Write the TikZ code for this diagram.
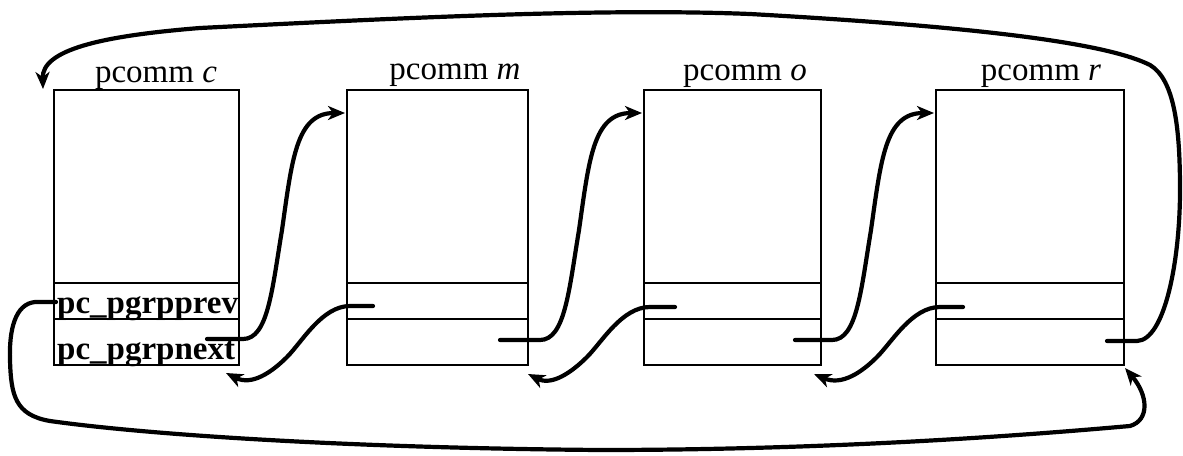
\documentclass[tikz,border=0pt]{standalone}
\usepackage{fontspec}
\setmainfont{Liberation Serif}
\usetikzlibrary{arrows.meta,calc}
\begin{document}
\begin{tikzpicture}[x=1pt,y=-1pt,
  box/.style={draw,line width=2.2pt,rectangle,anchor=north west,inner sep=0pt,minimum height=275pt},
  divider/.style={line width=2.2pt},
  title/.style={anchor=base,inner sep=0pt,font=\fontsize{33}{36}\selectfont},
  field/.style={anchor=base west,inner sep=0pt,font=\fontsize{33}{36}\selectfont\bfseries},
  link/.style={line width=4.2pt,line cap=round,line join=round,-{Stealth[length=17pt,width=14pt,inset=5pt]}}]
\useasboundingbox (0,0) rectangle (1183,455);
% boxes
\node[box,minimum width=185pt] (c) at (53,89) {};
\node[box,minimum width=181pt] (m) at (346,89) {};
\node[box,minimum width=177pt] (o) at (643,89) {};
\node[box,minimum width=188pt] (r) at (935,89) {};
\foreach \b in {c,m,o,r}{
  \draw[divider] ($(\b.north west)+(0,194)$) -- ($(\b.north east)+(0,194)$);
  \draw[divider] ($(\b.north west)+(0,230)$) -- ($(\b.north east)+(0,230)$);
}
% titles
\node[title] (tc) at (156,82) {pcomm \textit{c}};
\node[title] (tm) at (455,79) {pcomm \textit{m}};
\node[title] (to) at (745,80) {pcomm \textit{o}};
\node[title] (tr) at (1041,80) {pcomm \textit{r}};
% fields
\node[field] (fprev) at (57,313) {pc\_pgrpprev};
\node[field] (fnext) at (57,359) {pc\_pgrpnext};
% anchor points
\coordinate (cn) at (207,339);
\coordinate (cp) at (56,302);
\coordinate (ct) at (226,373);
\coordinate (ctop) at (43,89);
\coordinate (mi) at (345,113);
\coordinate (mn) at (500,340);
\coordinate (mp) at (373,306);
\coordinate (mt) at (528,374);
\coordinate (oi) at (642,113);
\coordinate (on) at (795,340);
\coordinate (op) at (675,307);
\coordinate (ot) at (814,374);
\coordinate (ri) at (934,113);
\coordinate (rn) at (1107,341);
\coordinate (rp) at (963,307);
\coordinate (rt) at (1125,368);
% next links
\draw[link] (cn) -- (243,339) .. controls (268,339) and (272,290) .. (282,230) .. controls (292,160) and (296,113) .. (mi);
\draw[link] (mn) -- (540,340) .. controls (565,340) and (569,290) .. (579,230) .. controls (589,160) and (593,113) .. (oi);
\draw[link] (on) -- (832,340) .. controls (857,340) and (861,290) .. (871,230) .. controls (881,160) and (885,113) .. (ri);
% prev links
\draw[link] (mp) -- (350,306) .. controls (322,306) and (302,342) .. (287,357) .. controls (272,372) and (252,386) .. (ct);
\draw[link] (op) -- (650,307) .. controls (622,307) and (602,342) .. (587,357) .. controls (572,372) and (552,386) .. (mt);
\draw[link] (rp) -- (940,307) .. controls (912,307) and (892,342) .. (877,357) .. controls (862,372) and (842,386) .. (ot);
% wrap-around links
\draw[link] (rn) -- (1137,341) .. controls (1165,340) and (1180,260) .. (1180,190) .. controls (1180,130) and (1175,80) .. (1150,65) .. controls (1110,45) and (1000,28) .. (750,14) .. controls (600,8) and (400,18) .. (200,28) .. controls (100,36) and (42,50) .. (ctop);
\draw[link] (cp) -- (35,302) .. controls (15,304) and (9,330) .. (10,360) .. controls (11,395) and (15,415) .. (50,421) .. controls (150,435) and (350,448) .. (600,450) .. controls (850,450) and (1050,433) .. (1130,426) .. controls (1150,420) and (1148,395) .. (rt);
\end{tikzpicture}
\end{document}
